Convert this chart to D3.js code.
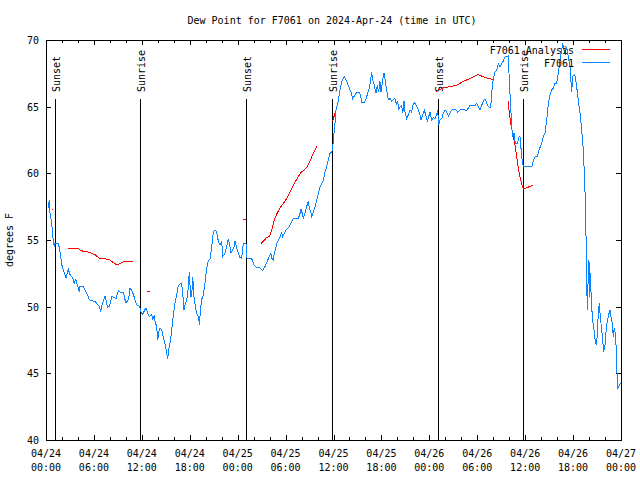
<!DOCTYPE html>
<html><head><meta charset="utf-8">
<script src="https://cdn.jsdelivr.net/npm/d3@7"></script>
<style>
body{margin:0;background:#fff}
svg text{font-family:"DejaVu Sans Mono",monospace;font-size:10px;fill:#000}
</style></head><body><svg id="c" width="640" height="480"></svg>
<script>
const title = "Dew Point for F7061 on 2024-Apr-24 (time in UTC)";
const yLabel = "degrees F";
const startUTC = Date.UTC(2024, 3, 24);
const endUTC = Date.UTC(2024, 3, 27);
const seriesNames = ["F7061 Analysis", "F7061"];
const seriesColors = ["#ff0000", "#0a84ff"];
const yTicks = [40, 45, 50, 55, 60, 65, 70];

// observed dew point (hours since 04/24 00:00 UTC, degrees F)
const obsHours = [0.29,0.41,0.50,0.71,0.84,0.91,1.04,1.13,1.54,1.67,1.84,2.00,2.17,2.38,2.50,2.79,3.01,3.22,3.42,3.54,3.72,3.84,4.04,4.17,4.26,4.67,4.88,5.10,5.38,5.60,6.14,6.42,6.67,6.85,7.01,7.18,7.39,7.60,7.73,7.93,8.10,8.23,8.51,8.77,9.05,9.27,9.68,9.89,10.02,10.18,10.36,10.52,10.68,10.86,11.06,11.27,11.43,11.68,11.77,11.90,12.11,12.31,12.52,12.68,12.94,13.24,13.36,13.56,13.65,13.86,13.99,14.11,14.28,14.49,14.61,14.78,14.94,15.11,15.24,15.36,15.53,15.69,15.87,16.03,16.19,16.37,16.53,16.78,16.99,17.12,17.28,17.44,17.62,17.78,17.94,18.12,18.24,18.37,18.53,18.70,18.87,19.12,19.20,19.37,19.53,19.70,19.91,20.12,20.32,20.54,20.75,20.95,21.16,21.37,21.58,21.79,22.00,22.13,22.41,22.63,22.83,23.04,23.17,23.38,23.54,23.67,23.88,24.08,24.29,24.51,24.63,24.79,25.04,25.13,25.21,25.76,26.05,26.38,26.80,27.14,27.30,27.42,27.71,27.96,28.14,28.30,28.46,28.59,28.80,29.01,29.30,29.51,29.64,29.84,30.05,30.27,30.47,30.68,30.89,31.05,31.27,31.59,31.81,31.93,32.09,32.22,32.34,32.47,32.64,32.84,32.97,33.15,33.27,33.47,33.68,33.90,34.10,34.31,34.52,34.72,34.94,35.15,35.35,35.56,35.78,35.90,36.06,36.23,36.31,36.60,36.81,37.03,37.32,37.57,37.85,38.07,38.19,38.40,38.61,38.82,39.03,39.23,39.41,39.53,39.82,40.07,40.28,40.48,40.66,40.78,40.91,41.11,41.32,41.49,41.66,41.82,41.95,42.16,42.32,42.49,42.66,42.86,43.08,43.29,43.49,43.70,43.92,44.04,44.17,44.33,44.54,44.67,44.83,44.95,45.17,45.37,45.58,45.79,45.99,46.21,46.42,46.62,46.83,46.96,47.17,47.37,47.58,47.75,47.92,48.08,48.30,48.50,48.71,48.92,49.05,49.17,49.34,49.55,49.75,49.96,50.18,50.38,50.59,50.80,51.00,51.34,51.55,51.84,52.18,52.47,52.68,52.88,53.09,53.43,53.72,53.93,54.13,54.35,54.56,54.76,54.97,55.19,55.38,55.60,55.72,55.85,56.01,56.22,56.44,56.64,56.85,57.06,57.26,57.48,57.69,57.89,58.01,58.19,58.31,58.44,58.60,58.77,59.02,59.23,59.35,59.44,59.64,59.77,60.19,60.82,61.02,61.23,61.52,61.73,62.07,62.27,62.48,62.70,62.90,63.11,63.32,63.52,63.74,63.95,64.15,64.36,64.57,64.70,64.86,65.03,65.20,65.40,65.61,65.83,65.95,66.12,66.28,66.45,66.65,66.87,67.08,67.28,67.41,67.49,67.62,67.71,67.78,67.87,67.99,68.08,68.16,68.28,68.41,68.53,68.66,68.78,68.91,69.03,69.16,69.28,69.41,69.58,69.71,69.83,70.00,70.16,70.28,70.46,70.62,70.75,70.91,71.04,71.16,71.29,71.41,71.50,71.59,71.79,71.96];
const obsValues = [57.4,58.0,57.0,56.25,55.5,54.9,54.5,54.75,54.75,54.4,53.75,53.1,52.75,52.4,52.15,52.8,52.4,52.25,52.0,51.75,52.1,51.75,51.4,51.1,51.55,51.55,51.25,51.0,50.6,50.45,50.4,50.2,50.05,49.6,50.1,50.4,50.8,50.25,49.95,50.05,50.4,50.75,50.7,50.6,51.2,51.1,51.1,50.55,50.3,50.4,50.6,51.4,51.25,51.05,50.7,50.25,50.1,50.05,49.9,49.6,49.4,49.7,49.9,49.6,49.25,49.4,49.0,49.4,48.9,48.5,47.5,48.1,48.4,48.25,47.9,47.5,47.1,46.5,46.1,46.75,47.25,48.0,49.0,49.75,50.4,50.9,51.5,51.7,51.75,51.0,49.75,50.25,50.5,51.25,52.6,50.75,50.75,52.25,50.75,50.0,49.5,49.2,48.6,50.0,50.6,50.9,51.75,52.9,53.4,53.6,54.5,55.6,55.75,55.6,54.9,54.6,54.9,53.75,54.0,54.5,55.1,54.5,54.0,54.25,54.5,54.9,54.4,54.0,53.7,53.6,54.45,54.75,54.75,53.75,53.6,53.6,53.1,52.95,52.9,52.7,52.9,53.0,53.4,53.8,54.0,53.6,53.5,54.0,54.5,54.9,55.25,55.55,55.25,55.5,55.75,55.9,56.0,56.25,56.55,56.6,56.6,56.6,57.0,57.3,57.0,56.6,56.9,57.1,57.5,57.9,57.45,57.1,56.75,57.1,57.45,58.0,58.5,59.0,59.2,59.5,60.1,60.5,61.0,61.5,61.6,61.9,63.0,64.0,64.75,65.4,66.25,66.9,67.25,67.0,66.6,66.25,66.1,65.6,65.8,66.0,66.1,66.1,65.75,65.3,65.3,65.6,66.0,66.4,67.05,67.6,67.0,66.6,66.0,66.6,66.1,66.9,66.1,67.0,67.55,66.9,66.25,65.5,65.6,65.4,65.55,65.6,65.1,65.4,64.75,65.0,65.1,64.5,65.4,64.6,64.1,64.4,64.75,64.6,65.2,65.3,65.0,64.75,64.4,64.0,64.4,64.75,64.3,63.9,64.25,64.6,64.0,64.2,64.1,64.4,64.75,63.6,64.0,64.1,64.5,64.75,64.6,64.3,64.5,64.75,64.8,64.75,64.6,64.75,64.8,64.75,64.7,64.9,65.1,65.05,65.1,65.25,65.0,64.75,65.1,65.4,65.6,65.25,65.0,64.9,65.25,66.25,67.1,67.6,67.75,68.25,68.0,68.25,68.4,68.75,68.75,68.8,67.0,65.0,63.5,62.75,63.0,62.25,62.25,62.75,62.75,62.1,60.9,60.5,60.5,60.5,60.9,61.25,61.25,61.75,62.25,62.75,63.0,64.0,65.25,65.9,66.25,66.4,66.75,66.75,67.5,68.5,69.25,69.75,69.25,69.0,69.5,68.75,68.0,66.1,67.25,67.4,67.25,66.5,65.5,64.5,63.25,61.75,60.0,58.75,55.25,51.75,49.75,51.75,53.5,50.75,52.5,50.5,49.25,48.6,48.1,47.4,47.1,47.9,49.6,50.25,49.25,48.25,47.5,46.6,47.1,48.4,48.9,49.4,49.75,49.25,48.75,47.75,48.4,48.0,46.75,45.0,43.9,44.1,44.25];

// analysis dew point (null = gap)
const anaHours = [0.75,0.85,null,2.79,4.04,4.26,4.67,5.30,5.72,6.14,6.55,6.76,7.39,8.01,8.43,8.85,9.18,9.48,9.89,10.86,null,12.61,13.02,null,24.63,25.04,null,26.92,27.21,27.64,27.96,28.14,28.39,28.59,28.89,29.30,29.72,30.14,30.55,30.97,31.39,31.89,32.31,32.72,33.06,33.40,33.68,33.90,null,35.90,36.06,36.31,36.60,null,48.84,49.12,49.75,50.59,51.43,52.25,53.09,54.06,54.76,55.38,55.93,null,57.89,58.01,58.19,58.35,58.52,58.73,58.94,59.14,59.35,59.56,59.77,60.10,60.52,60.94];
const anaValues = [57.3,57.3,null,54.4,54.4,54.25,54.15,54.1,54.0,53.9,53.7,53.6,53.6,53.5,53.3,53.15,53.2,53.3,53.4,53.4,null,51.15,51.15,null,56.55,56.55,null,54.75,54.9,55.2,55.25,55.5,56.05,56.5,56.95,57.4,57.75,58.1,58.6,59.1,59.55,60.05,60.25,60.5,60.9,61.4,61.75,62.05,null,63.9,64.25,64.75,65.4,null,66.1,66.25,66.4,66.5,66.6,66.9,67.1,67.4,67.25,67.1,67.05,null,65.4,64.5,63.75,63.25,62.75,62.1,61.25,60.4,59.75,59.2,58.8,58.9,59.0,59.1];

// sun events (hours since 04/24 00:00 UTC)
const sunHours = [1.16, 11.81, 25.08, 35.85, 49.12, 59.77];
const sunLabels = ["Sunset", "Sunrise", "Sunset", "Sunrise", "Sunset", "Sunrise"];

const toDate = h => new Date(startUTC + h * 3600e3);
const L = 46, R = 621, T = 40, B = 440;
const svg = d3.select("#c");
const x = d3.scaleUtc().domain([new Date(startUTC), new Date(endUTC)]).range([L, R]);
const y = d3.scaleLinear().domain([40, 70]).range([B, T]);

const majorX = d3.utcHour.every(6).range(new Date(startUTC), new Date(endUTC + 1));
const minorX = d3.utcHour.every(2).range(new Date(startUTC), new Date(endUTC + 1));

// ticks (inward, mirrored)
function tickAxis(gen, vals, size, tr) {
  const g = svg.append("g").attr("transform", tr)
    .call(gen.tickValues(vals).tickSize(size).tickFormat(""));
  g.select(".domain").remove();
  g.selectAll("line").attr("stroke", "#000").attr("shape-rendering", "crispEdges");
  return g;
}
tickAxis(d3.axisBottom(x), minorX, -3, `translate(0,${B})`);
tickAxis(d3.axisBottom(x), majorX, -5, `translate(0,${B})`);
tickAxis(d3.axisTop(x), minorX, -3, `translate(0,${T})`);
tickAxis(d3.axisTop(x), majorX, -5, `translate(0,${T})`);
tickAxis(d3.axisLeft(y), yTicks, -5, `translate(${L},0)`);
tickAxis(d3.axisRight(y), yTicks, -5, `translate(${R},0)`);

// x labels (two lines)
const fmtD = d3.utcFormat("%m/%d"), fmtT = d3.utcFormat("%H:%M");
const xl = svg.append("g").selectAll("text").data(majorX).join("text")
  .attr("text-anchor", "middle").attr("x", d => x(d));
xl.append("tspan").attr("x", d => x(d)).attr("y", 457).text(fmtD);
xl.append("tspan").attr("x", d => x(d)).attr("y", 471).text(fmtT);

// y labels
svg.append("g").selectAll("text").data(yTicks).join("text")
  .attr("text-anchor", "end").attr("x", 39).attr("y", d => y(d) + 4).text(d => d);

// titles
svg.append("text").attr("x", 332).attr("y", 24).attr("text-anchor", "middle").text(title);
svg.append("text").attr("transform", "translate(13,240) rotate(-90)")
  .attr("text-anchor", "middle").text(yLabel);

// sun lines
const sun = svg.append("g");
sun.selectAll("line").data(sunHours).join("line")
  .attr("x1", d => Math.round(x(toDate(d))) + 0.5).attr("x2", d => Math.round(x(toDate(d))) + 0.5)
  .attr("y1", 99).attr("y2", B).attr("stroke", "#000").attr("shape-rendering", "crispEdges");
sun.selectAll("text").data(sunHours).join("text")
  .attr("transform", d => `translate(${Math.round(x(toDate(d))) + 4.5},92) rotate(-90)`)
  .text((d, i) => sunLabels[i]);

// series
const line = d3.line().defined(d => d[1] != null)
  .x(d => x(toDate(d[0]))).y(d => y(d[1]));
const anaData = anaHours.map((h, i) => [h, anaValues[i]]);
const obsData = obsHours.map((h, i) => [h, obsValues[i]]);
svg.append("path").datum(anaData).attr("d", line).attr("fill", "none")
  .attr("stroke", seriesColors[0]).attr("stroke-width", 1).attr("shape-rendering", "crispEdges");
svg.append("path").datum(obsData).attr("d", line).attr("fill", "none")
  .attr("stroke", seriesColors[1]).attr("stroke-width", 1).attr("shape-rendering", "crispEdges");

// frame
svg.append("rect").attr("x", L + 0.5).attr("y", T + 0.5).attr("width", R - L).attr("height", B - T)
  .attr("fill", "none").attr("stroke", "#000").attr("shape-rendering", "crispEdges");

// legend
const leg = svg.append("g");
seriesNames.forEach((n, i) => {
  const yy = 49.5 + i * 13;
  leg.append("text").attr("x", 574).attr("y", yy + 4).attr("text-anchor", "end").text(n);
  leg.append("line").attr("x1", 582).attr("x2", 610).attr("y1", yy).attr("y2", yy)
    .attr("stroke", seriesColors[i]).attr("shape-rendering", "crispEdges");
});
</script></body></html>
